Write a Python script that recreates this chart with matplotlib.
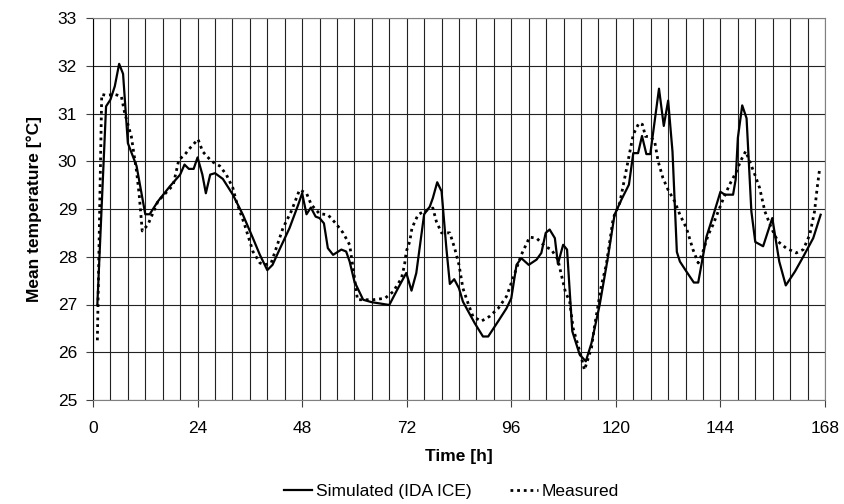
import matplotlib.pyplot as plt
from matplotlib.ticker import MultipleLocator

plt.rcParams['font.family'] = ['Liberation Sans', 'DejaVu Sans']

# Simulated (IDA ICE) - vertices
t_sim = [1, 3, 4, 5, 6, 6.9, 8, 10, 12, 13, 14.9, 17.6, 20, 21, 22, 23.1, 24, 25.1, 25.9,
         26.9, 28, 29.8, 32.1, 34.4, 36.7, 38.3, 40, 41.2, 42.8, 45.1, 47.1, 48, 49, 50,
         51.1, 52, 53, 53.9, 55.1, 57, 58.1, 58.9, 60, 62, 63.9, 68, 70, 71.9, 73.1, 74.2,
         76, 77.3, 78, 79, 80, 81.1, 81.9, 82.9, 84, 84.9, 87.6, 89.5, 90.7, 93, 94.9, 96,
         97.2, 98.3, 100, 101.8, 102.9, 103.9, 104.8, 106, 106.7, 107.9, 108.8, 110, 111.7,
         113.1, 114.4, 116.3, 118.2, 119.7, 121.3, 123, 124, 125.1, 126, 127, 127.9, 129.9,
         131, 132, 133, 134, 134.7, 136.2, 137.9, 138.9, 140.8, 142.3, 144, 145, 146.9, 147.5,
         148, 149, 150, 151.1, 152, 153.8, 155.9, 157.5, 159, 161.1, 163, 165.3, 167]
temp_sim = [27.0, 31.15, 31.29, 31.57, 32.04, 31.83, 30.38, 29.9, 28.89, 28.89, 29.16, 29.47,
            29.72, 29.93, 29.84, 29.84, 30.08, 29.72, 29.33, 29.72, 29.75, 29.63, 29.30, 28.88,
            28.39, 28.04, 27.72, 27.83, 28.15, 28.60, 29.09, 29.33, 28.89, 29.03, 28.84, 28.81,
            28.70, 28.18, 28.04, 28.15, 28.11, 27.9, 27.48, 27.1, 27.05, 26.99, 27.34, 27.66,
            27.29, 27.66, 28.89, 29.05, 29.23, 29.56, 29.37, 28.18, 27.43, 27.53, 27.34, 27.06,
            26.61, 26.33, 26.33, 26.65, 26.92, 27.13, 27.83, 27.97, 27.83, 27.94, 28.08, 28.5,
            28.57, 28.39, 27.85, 28.25, 28.15, 26.44, 25.95, 25.81, 26.19, 27.0, 28.0, 28.88,
            29.2, 29.51, 30.17, 30.17, 30.53, 30.15, 30.15, 31.52, 30.74, 31.27, 30.2, 28.1,
            27.9, 27.69, 27.46, 27.46, 28.42, 28.85, 29.36, 29.3, 29.3, 29.62, 30.49, 31.17,
            30.9, 28.95, 28.31, 28.22, 28.81, 27.9, 27.4, 27.69, 28.0, 28.39, 28.88]

# Measured
t_meas = [1, 2, 3, 5, 6.5, 7.3, 8.8, 9.2, 10, 10.6, 11.3, 12.6, 14.9, 18.4, 19.7, 21, 22.2,
          24.1, 25.2, 27.2, 29.1, 30.6, 32.1, 32.9, 34.8, 36.7, 38.3, 39.4, 40.9, 43.6, 45.5,
          47.4, 49, 50.1, 52, 53.9, 55.8, 57.4, 58.9, 59.7, 60.7, 62.4, 64.3, 67, 68.9, 70.8,
          71.5, 71.9, 72.7, 73.2, 74.6, 76.1, 78, 78.8, 80, 81.9, 83, 84, 84.9, 86.1, 87.2,
          89.1, 91, 93, 94.9, 96.4, 98.3, 100.2, 101.8, 103.7, 105.2, 106.7, 107.5, 108.4,
          109.4, 110.2, 111.7, 112.8, 114.4, 115.1, 116.7, 117.8, 119.4, 120.9, 122.4, 123.3,
          124, 125.3, 126.1, 126.8, 127.8, 128.9, 129.7, 130.8, 132, 133.5, 134.7, 136.2,
          137.7, 138.9, 140, 141.2, 142.3, 143.5, 144.6, 146.1, 147.7, 148.6, 149.8, 150.7,
          151.9, 153, 154.2, 155.7, 157.2, 159.1, 161.4, 163, 164.5, 165.6, 166.2, 166.8]
temp_meas = [26.25, 31.4, 31.38, 31.4, 31.36, 31.0, 30.52, 30.27, 29.79, 29.3, 28.54, 28.67,
             29.16, 29.5, 30.03, 30.13, 30.27, 30.46, 30.2, 30.0, 29.9, 29.72, 29.44, 29.16,
             28.67, 28.11, 27.87, 27.83, 27.87, 28.6, 28.95, 29.4, 29.33, 29.09, 28.9, 28.88,
             28.69, 28.5, 28.25, 27.76, 27.1, 27.1, 27.1, 27.13, 27.27, 27.55, 27.83, 28.11,
             28.32, 28.6, 28.88, 28.96, 29.02, 28.74, 28.5, 28.5, 28.18, 27.83, 27.34, 27.02,
             26.75, 26.65, 26.75, 26.92, 27.17, 27.55, 28.04, 28.41, 28.39, 28.22, 28.15, 27.94,
             27.62, 27.27, 27.06, 26.5, 26.02, 25.63, 26.09, 26.54, 27.41, 27.83, 28.81, 29.13,
             29.82, 30.24, 30.56, 30.8, 30.77, 30.52, 30.52, 30.42, 30.0, 29.65, 29.4, 29.16,
             28.88, 28.6, 28.15, 27.87, 28.11, 28.46, 28.67, 28.95, 29.2, 29.51, 29.79, 30.0,
             30.21, 30.0, 29.72, 29.44, 28.95, 28.6, 28.32, 28.18, 28.08, 28.15, 28.46, 28.95,
             29.44, 29.86]

fig = plt.figure(figsize=(8.44, 5.04), dpi=100)
ax = fig.add_axes([93 / 844, 104 / 504, 732 / 844, 382 / 504])

ax.plot(t_sim, temp_sim, color='black', lw=1.6, label='Simulated (IDA ICE)', zorder=3)
ax.plot(t_meas, temp_meas, color='black', lw=2.0, linestyle=(0, (1.0, 1.4)),
        label='Measured', zorder=3)

ax.set_xlim(0, 168)
ax.set_ylim(25, 33)
ax.xaxis.set_major_locator(MultipleLocator(24))
ax.xaxis.set_minor_locator(MultipleLocator(4))
ax.yaxis.set_major_locator(MultipleLocator(1))
ax.grid(True, which='both', axis='x', color='#222222', lw=0.8)
ax.grid(True, which='major', axis='y', color='#222222', lw=0.8)
ax.tick_params(axis='both', which='major', direction='out', length=5, labelsize=12.5,
               color='#404040')
ax.tick_params(axis='x', which='major', pad=10)
ax.tick_params(axis='y', which='major', pad=6.5)
ax.tick_params(axis='x', which='minor', length=0)
for side in ['top', 'right', 'bottom']:
    ax.spines[side].set_color('#808080')
ax.spines['left'].set_color('black')

ax.set_xlabel('Time [h]', fontsize=12.5, fontweight='bold')
ax.xaxis.set_label_coords(0.5, -0.128)
ax.set_ylabel('Mean temperature [°C]', fontsize=12.5, fontweight='bold', labelpad=11)

fig.legend(loc='center', bbox_to_anchor=(0.535, 0.024), ncol=2, frameon=False,
           fontsize=12.5, handlelength=1.6, handletextpad=0.25, columnspacing=2.2)

fig.savefig('out.png', dpi=100)
